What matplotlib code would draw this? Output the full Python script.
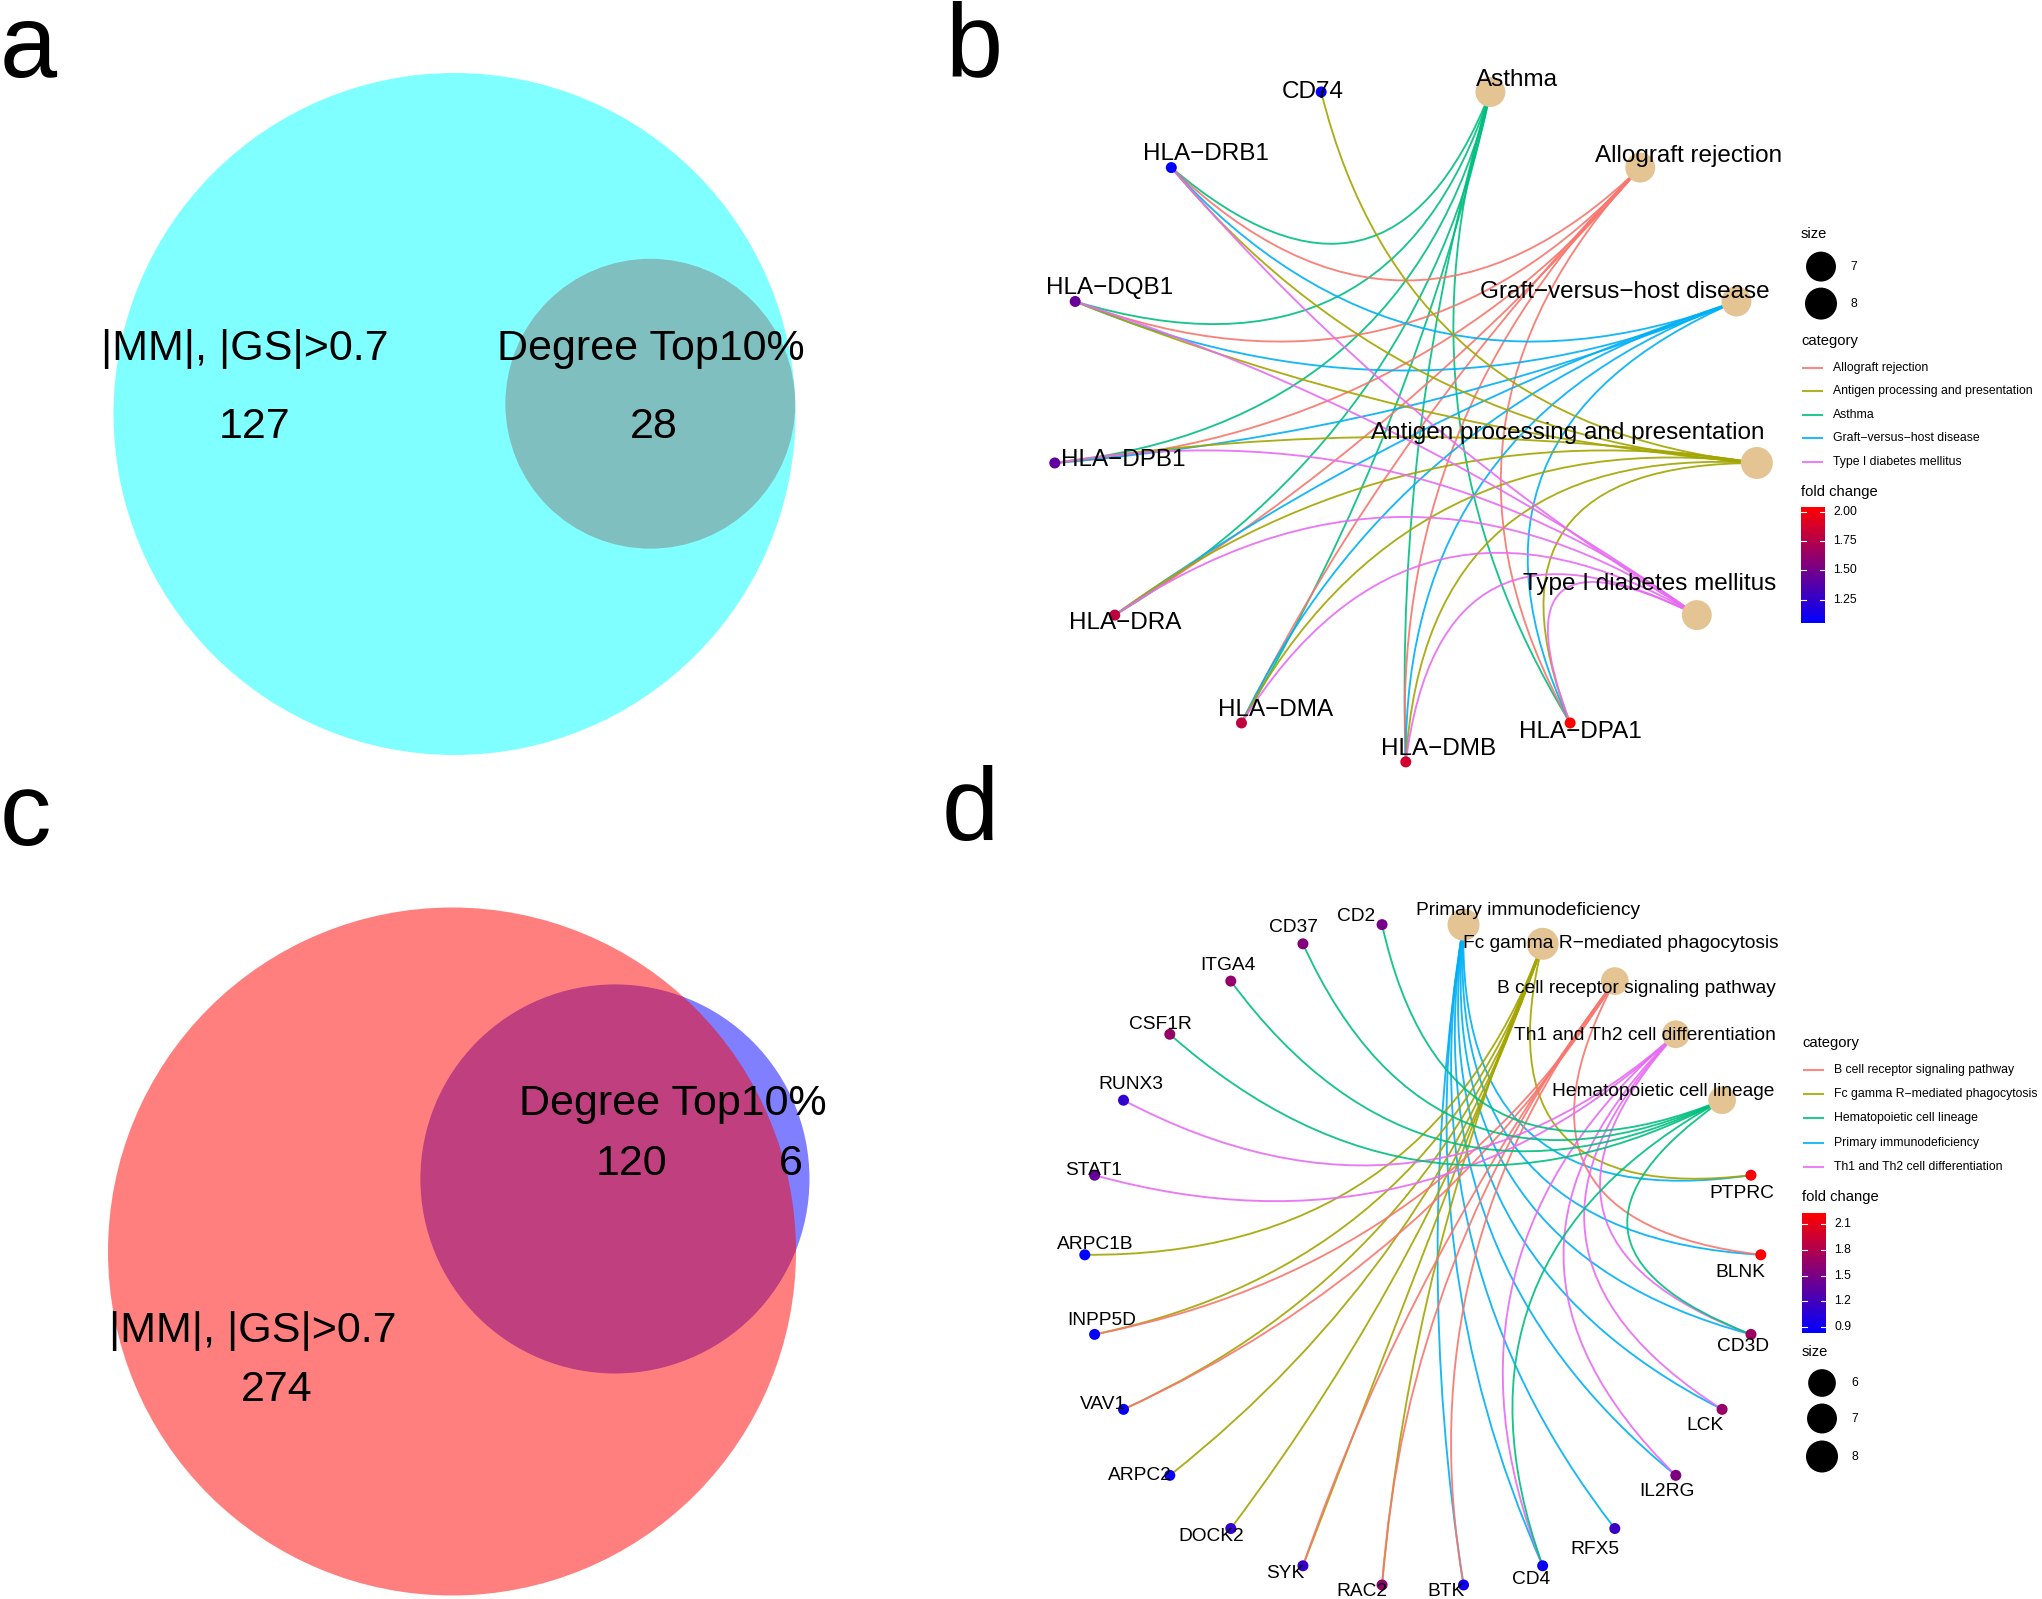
import numpy as np
import matplotlib
matplotlib.use("Agg")
import matplotlib.pyplot as plt
from matplotlib.patches import Circle, PathPatch
from matplotlib.path import Path
from matplotlib.colors import LinearSegmentedColormap, Normalize

plt.rcParams['font.family'] = ['Liberation Sans', 'DejaVu Sans']

# ---------------- data ----------------
# a: Venn (cyan = |MM|,|GS|>0.7 ; grey = degree top 10%)
a_set_names = ['|MM|, |GS|>0.7', 'Degree Top10%']
a_only_mm = 127
a_both = 28

# c: Venn (red = |MM|,|GS|>0.7 ; blue = degree top 10%)
c_set_names = ['|MM|, |GS|>0.7', 'Degree Top10%']
c_only_mm = 274
c_both = 120
c_only_deg = 6

# b: KEGG cnetplot
b_categories = ['Asthma', 'Allograft rejection', 'Graft−versus−host disease',
                'Antigen processing and presentation', 'Type I diabetes mellitus']
b_genes = ['HLA−DPA1', 'HLA−DMB', 'HLA−DMA', 'HLA−DRA', 'HLA−DPB1',
           'HLA−DQB1', 'HLA−DRB1', 'CD74']
b_fold_change = [2.04, 1.86, 1.80, 1.79, 1.42, 1.45, 1.053, 1.07]
b_asthma = ['HLA−DPA1', 'HLA−DMB', 'HLA−DMA', 'HLA−DRA', 'HLA−DPB1', 'HLA−DQB1', 'HLA−DRB1']
b_allograft = ['HLA−DPA1', 'HLA−DMB', 'HLA−DMA', 'HLA−DRA', 'HLA−DPB1', 'HLA−DQB1', 'HLA−DRB1']
b_gvhd = ['HLA−DPA1', 'HLA−DMB', 'HLA−DMA', 'HLA−DRA', 'HLA−DPB1', 'HLA−DQB1', 'HLA−DRB1']
b_antigen = ['HLA−DPA1', 'HLA−DMB', 'HLA−DMA', 'HLA−DRA', 'HLA−DPB1', 'HLA−DQB1', 'HLA−DRB1', 'CD74']
b_t1d = ['HLA−DPA1', 'HLA−DMB', 'HLA−DMA', 'HLA−DRA', 'HLA−DPB1', 'HLA−DQB1', 'HLA−DRB1']
b_members = [b_asthma, b_allograft, b_gvhd, b_antigen, b_t1d]
b_fc_ticks = [1.25, 1.50, 1.75, 2.00]

# d: KEGG cnetplot
d_categories = ['Primary immunodeficiency', 'Fc gamma R−mediated phagocytosis',
                'B cell receptor signaling pathway', 'Th1 and Th2 cell differentiation',
                'Hematopoietic cell lineage']
d_genes = ['PTPRC', 'BLNK', 'CD3D', 'LCK', 'IL2RG', 'RFX5', 'CD4', 'BTK', 'RAC2', 'SYK',
           'DOCK2', 'ARPC2', 'VAV1', 'INPP5D', 'ARPC1B', 'STAT1', 'RUNX3', 'CSF1R',
           'ITGA4', 'CD37', 'CD2']
d_fold_change = [2.18, 2.23, 1.70, 1.66, 1.52, 1.15, 0.90, 0.92, 1.62, 1.12,
                 1.10, 0.88, 0.87, 0.85, 0.83, 1.40, 1.10, 1.65, 1.65, 1.55, 1.47]
d_primary = ['PTPRC', 'BLNK', 'CD3D', 'LCK', 'IL2RG', 'RFX5', 'CD4', 'BTK']
d_fcgr = ['PTPRC', 'RAC2', 'SYK', 'DOCK2', 'ARPC2', 'VAV1', 'INPP5D', 'ARPC1B']
d_bcr = ['BLNK', 'BTK', 'RAC2', 'SYK', 'VAV1', 'INPP5D']
d_th = ['CD3D', 'LCK', 'IL2RG', 'CD4', 'STAT1', 'RUNX3']
d_hema = ['CD3D', 'CD4', 'CSF1R', 'ITGA4', 'CD37', 'CD2']
d_members = [d_primary, d_fcgr, d_bcr, d_th, d_hema]
d_fc_ticks = [0.9, 1.2, 1.5, 1.8, 2.1]

# ---------------- style ----------------
W, H = 2042, 1599
HUE = ['#F8766D', '#A3A500', '#00BF7D', '#00B0F6', '#E76BF3']
CAT_NODE = '#E5C494'
FC_CMAP = LinearSegmentedColormap.from_list('fc', ['#0000FF', '#FF0000'])

# label offsets (pixels, screen-down positive) mimicking ggrepel placement
b_label_off = {
    'Asthma': (27, -12), 'Allograft rejection': (48, -12),
    'Graft−versus−host disease': (-112, -9),
    'Antigen processing and presentation': (-189, -30),
    'Type I diabetes mellitus': (-47, -31),
    'HLA−DPA1': (10, 9), 'HLA−DMB': (33, -13), 'HLA−DMA': (34, -13),
    'HLA−DRA': (10, 8), 'HLA−DPB1': (68, -3), 'HLA−DQB1': (34, -13),
    'HLA−DRB1': (35, -14), 'CD74': (-8, 0),
}
d_label_off = {
    'Primary immunodeficiency': (65, -14), 'Fc gamma R−mediated phagocytosis': (78, 0),
    'B cell receptor signaling pathway': (22, 7),
    'Th1 and Th2 cell differentiation': (-31, 1),
    'Hematopoietic cell lineage': (-59, -9),
    'PTPRC': (-9, 18), 'BLNK': (-20, 18), 'CD3D': (-8, 12), 'LCK': (-17, 16),
    'IL2RG': (-9, 16), 'RFX5': (-20, 21), 'CD4': (-12, 14), 'BTK': (-18, 7),
    'RAC2': (-20, 7), 'SYK': (-18, 8), 'DOCK2': (-20, 8), 'ARPC2': (-30, 0),
    'VAV1': (-21, -5), 'INPP5D': (7, -14), 'ARPC1B': (10, -10), 'STAT1': (-1, -5),
    'RUNX3': (7, -16), 'CSF1R': (-9, -10), 'ITGA4': (-3, -16), 'CD37': (-9, -16),
    'CD2': (-26, -8),
}

fig = plt.figure(figsize=(W / 100, H / 100), dpi=100)
ax0 = fig.add_axes([0, 0, 1, 1])
ax0.set_xlim(0, W)
ax0.set_ylim(H, 0)
ax0.axis('off')


def overlap_area(R, r, d):
    if d >= R + r:
        return 0.0
    if d <= abs(R - r):
        return np.pi * min(R, r) ** 2
    a1 = r * r * np.arccos((d * d + r * r - R * R) / (2 * d * r))
    a2 = R * R * np.arccos((d * d + R * R - r * r) / (2 * d * R))
    a3 = 0.5 * np.sqrt((-d + r + R) * (d + r - R) * (d - r + R) * (d + r + R))
    return a1 + a2 - a3


def venn(center, R, big_total, small_total, both, ang_deg, big_col, small_col, big_first):
    r = R * np.sqrt(small_total / big_total)
    target = both / small_total * np.pi * r * r
    if both >= small_total:
        d = R - r
    else:
        lo, hi = R - r, R + r
        for _ in range(80):
            mid = (lo + hi) / 2
            if overlap_area(R, r, mid) > target:
                lo = mid
            else:
                hi = mid
        d = (lo + hi) / 2
    t = np.deg2rad(ang_deg)
    sc = (center[0] + d * np.cos(t), center[1] - d * np.sin(t))
    big = Circle(center, R, fc=big_col, ec='none', alpha=0.5)
    small = Circle(sc, r, fc=small_col, ec='none', alpha=0.5)
    for p in ([big, small] if big_first else [small, big]):
        ax0.add_patch(p)


# ---- panel a ----
venn((454.5, 414), 341, a_only_mm + a_both, a_both, a_both, 3, '#00FFFF', '#808080', True)
vfs = 31
ax0.text(245, 349, a_set_names[0], fontsize=vfs, ha='center', va='center')
ax0.text(255, 427, str(a_only_mm), fontsize=vfs, ha='center', va='center')
ax0.text(651, 349, a_set_names[1], fontsize=vfs, ha='center', va='center')
ax0.text(654, 427, str(a_both), fontsize=vfs, ha='center', va='center')

# ---- panel c ----
venn((452, 1251.5), 344, c_only_mm + c_both, c_both + c_only_deg, c_both, 24,
     '#FF0000', '#0000FF', False)
ax0.text(673, 1104, c_set_names[1], fontsize=vfs, ha='center', va='center')
ax0.text(632, 1164, str(c_both), fontsize=vfs, ha='center', va='center')
ax0.text(791, 1164, str(c_only_deg), fontsize=vfs, ha='center', va='center')
ax0.text(253, 1331, c_set_names[0], fontsize=vfs, ha='center', va='center')
ax0.text(277, 1390, str(c_only_mm), fontsize=vfs, ha='center', va='center')

# panel letters
for letter, x, y in [('a', 0, 77), ('b', 945, 75), ('c', 0, 845), ('d', 942, 840)]:
    ax0.text(x, y, letter, fontsize=74, ha='left', va='baseline')


def cat_diam_px(size):
    return 32 * np.sqrt(size / 8)


def draw_network(cx, cy, rx, ry, categories, genes, fold, members, offsets, fs):
    ax = fig.add_axes([(cx - rx) / W, 1 - (cy + ry) / H, 2 * rx / W, 2 * ry / H])
    ax.set_xlim(-1, 1)
    ax.set_ylim(-1, 1)
    ax.axis('off')
    nodes = categories + genes
    n = len(nodes)
    k = np.arange(n)
    ang = np.pi / 2 - 2 * np.pi * (k + 0.5) / n
    xy = np.column_stack([np.cos(ang), np.sin(ang)])
    pos = dict(zip(nodes, xy))
    order = sorted(categories)
    for cat, mem in zip(categories, members):
        col = HUE[order.index(cat)]
        for g in mem:
            p0, p1 = pos[cat], pos[g]
            m = (p0 + p1) / 2
            theta = np.arccos(np.clip(p0 @ p1, -1, 1))
            ctrl = m * (0.5 - 0.84 * theta / np.pi)
            path = Path([p0, ctrl, p1], [Path.MOVETO, Path.CURVE3, Path.CURVE3])
            ax.add_patch(PathPatch(path, fc='none', ec=col, lw=1.35, alpha=0.9,
                                   clip_on=False, zorder=1))
    norm = Normalize(min(fold), max(fold))
    sizes = [len(mm) for mm in members]
    cxy = np.array([pos[c] for c in categories])
    ax.scatter(cxy[:, 0], cxy[:, 1], s=[(cat_diam_px(s) * 0.72) ** 2 for s in sizes],
               c=CAT_NODE, edgecolors='none', zorder=2, clip_on=False)
    gxy = np.array([pos[g] for g in genes])
    ax.scatter(gxy[:, 0], gxy[:, 1], s=(11 * 0.72) ** 2, c=fold, cmap=FC_CMAP, norm=norm,
               edgecolors='none', zorder=2, clip_on=False)
    for name in nodes:
        dx, dy = offsets[name]
        ax.annotate(name, xy=pos[name], xytext=(dx, -dy), textcoords='offset pixels',
                    ha='center', va='center', fontsize=fs, zorder=3, annotation_clip=False)
    return norm, sizes


b_norm, b_sizes = draw_network(1405.8, 422, 353.6, 339.9, b_categories, b_genes,
                               b_fold_change, b_members, b_label_off, 17.5)
d_norm, d_sizes = draw_network(1422.8, 1254.8, 338, 332.6, d_categories, d_genes,
                               d_fold_change, d_members, d_label_off, 13.8)

# ---------------- legends ----------------
TFS, LFS = 10.6, 8.8


def size_legend(x, y_title, ys, values):
    ax0.text(x, y_title, 'size', fontsize=TFS, ha='left', va='center')
    for v, yy in zip(values, ys):
        ax0.add_patch(Circle((x + 20, yy), cat_diam_px(v) / 2, fc='black', ec='none'))
        ax0.text(x + 49, yy, str(v), fontsize=LFS, ha='left', va='center')


def category_legend(x, y_title, y0, step, categories):
    ax0.text(x, y_title, 'category', fontsize=TFS, ha='left', va='center')
    for i, cat in enumerate(sorted(categories)):
        yy = y0 + i * step
        ax0.plot([x + 2, x + 21], [yy, yy], color=HUE[i], lw=1.5, alpha=0.85)
        ax0.text(x + 32, yy, cat, fontsize=LFS, ha='left', va='center')


def fc_legend(x, y_title, ytop, ybot, norm, ticks, fmt):
    ax0.text(x, y_title, 'fold change', fontsize=TFS, ha='left', va='center')
    grad = np.linspace(0, 1, 256).reshape(-1, 1)
    ax0.imshow(grad, cmap=FC_CMAP, extent=(x, x + 24, ybot, ytop), origin='lower',
               aspect='auto', interpolation='bilinear')
    for t in ticks:
        yy = ybot - norm(t) * (ybot - ytop)
        ax0.plot([x, x + 5], [yy, yy], color='white', lw=0.8)
        ax0.plot([x + 19, x + 24], [yy, yy], color='white', lw=0.8)
        ax0.text(x + 32, yy, fmt.format(t), fontsize=LFS, ha='left', va='center')


size_legend(1801, 234, [266.6, 303.6], sorted(set(b_sizes)))
category_legend(1801, 341, 367.5, 23.6, b_categories)
fc_legend(1801, 492, 507, 623, b_norm, b_fc_ticks, '{:.2f}')

category_legend(1802, 1043, 1070, 24.2, d_categories)
fc_legend(1802, 1197, 1213, 1333, d_norm, d_fc_ticks, '{:.1f}')
size_legend(1802, 1352, [1383, 1418.5, 1456.5], [6, 7, 8])

ax0.set_xlim(0, W)
ax0.set_ylim(H, 0)

fig.savefig('out.png', dpi=100)
